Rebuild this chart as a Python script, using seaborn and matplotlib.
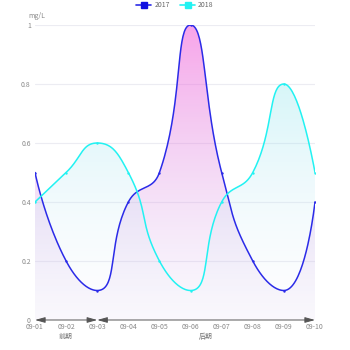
import numpy as np
import matplotlib
matplotlib.use("Agg")
import matplotlib.pyplot as plt
import seaborn as sns
import pandas as pd
from matplotlib.lines import Line2D

dates = ["09-01", "09-02", "09-03", "09-04", "09-05", "09-06", "09-07", "09-08", "09-09", "09-10"]
v2017 = [0.5, 0.2, 0.1, 0.4, 0.5, 1.0, 0.5, 0.2, 0.1, 0.4]
v2018 = [0.4, 0.5, 0.6, 0.5, 0.2, 0.1, 0.4, 0.5, 0.8, 0.5]
yticks = [0, 0.2, 0.4, 0.6, 0.8, 1]
ytick_labels = ["0", "0.2", "0.4", "0.6", "0.8", "1"]
phases = [("前期", 0, 2), ("后期", 2, 9)]
unit = "mg/L"

sns.set_theme(style="white")
plt.rcParams['font.family'] = ['Noto Sans CJK SC', 'DejaVu Sans']

W, H = 350, 350
fig = plt.figure(figsize=(3.5, 3.5), dpi=100)
L, R, T, B = 35, 315, 25, 320
ax = fig.add_axes([L / W, 1 - B / H, (R - L) / W, (B - T) / H])
ax.set_xlim(0, 9)
ax.set_ylim(0, 1)

px_x = (R - L) / 9.0
px_y = (B - T) / 1.0


def echarts_smooth(xs, ys, smooth=0.5, n=40):
    P = [(x * px_x, y * px_y) for x, y in zip(xs, ys)]
    N = len(P)
    segs = []
    cp0 = P[0]
    for i in range(1, N):
        x, y = P[i]
        px_, py_ = P[i - 1]
        if i < N - 1:
            nx, ny = P[i + 1]
            vx, vy = nx - px_, ny - py_
            dx0, dy0 = x - px_, y - py_
            dx1, dy1 = nx - x, ny - y
            lp = np.hypot(dx0, dy0)
            ln = np.hypot(dx1, dy1)
            r = ln / (ln + lp)
            ncx = x + vx * smooth * r
            ncy = y + vy * smooth * r
            ncx = min(ncx, max(nx, x)); ncy = min(ncy, max(ny, y))
            ncx = max(ncx, min(nx, x)); ncy = max(ncy, min(ny, y))
            vx, vy = ncx - x, ncy - y
            c1x = x - vx * lp / ln
            c1y = y - vy * lp / ln
            c1x = min(c1x, max(px_, x)); c1y = min(c1y, max(py_, y))
            c1x = max(c1x, min(px_, x)); c1y = max(c1y, min(py_, y))
            vx, vy = x - c1x, y - c1y
            ncx = x + vx * ln / lp
            ncy = y + vy * ln / lp
            cp1 = (c1x, c1y)
            ncp0 = (ncx, ncy)
        else:
            cp1 = (x, y)
            ncp0 = None
        segs.append((P[i - 1], cp0, cp1, P[i]))
        cp0 = ncp0
    t = np.linspace(0, 1, n)
    out_x, out_y = [], []
    for k, (p0, c0, c1, p1) in enumerate(segs):
        tt = t if k == 0 else t[1:]
        bx = (1 - tt) ** 3 * p0[0] + 3 * (1 - tt) ** 2 * tt * c0[0] + 3 * (1 - tt) * tt ** 2 * c1[0] + tt ** 3 * p1[0]
        by = (1 - tt) ** 3 * p0[1] + 3 * (1 - tt) ** 2 * tt * c0[1] + 3 * (1 - tt) * tt ** 2 * c1[1] + tt ** 3 * p1[1]
        out_x.extend(bx / px_x)
        out_y.extend(by / px_y)
    return np.array(out_x), np.array(out_y)


for yt in yticks[1:]:
    ax.axhline(yt, color="#ececf2", lw=0.8, zorder=0)

x_idx = np.arange(len(dates))
series = [
    ("2017", v2017, "#2b2be8", (0.95, 0.35, 0.85, 0.55), (0.80, 0.72, 0.92, 0.08)),
    ("2018", v2018, "#22f2f2", (0.55, 0.90, 0.93, 0.35), (0.92, 0.92, 0.98, 0.05)),
]

for name, vals, lc, ctop, cbot in series:
    sx, sy = echarts_smooth(x_idx, vals)
    ymax = max(vals)
    grad = np.zeros((256, 1, 4))
    f = np.linspace(1, 0, 256)[:, None]
    for c in range(4):
        grad[:, :, c] = cbot[c] + (ctop[c] - cbot[c]) * f
    poly = ax.fill_between(sx, 0, sy, color="none", lw=0)
    im = ax.imshow(grad, extent=[0, 9, 0, ymax], aspect="auto", origin="upper", zorder=1, interpolation="bilinear")
    im.set_clip_path(poly.get_paths()[0], transform=ax.transData)
    df = pd.DataFrame({"x": sx, "y": sy})
    sns.lineplot(data=df, x="x", y="y", sort=False, color=lc, lw=1.1, ax=ax, zorder=3, estimator=None)
    dp = pd.DataFrame({"x": x_idx, "y": vals})
    sns.scatterplot(data=dp, x="x", y="y", color=lc, s=3, linewidth=0, ax=ax, zorder=4)

ax.set_xlim(0, 9)
ax.set_ylim(0, 1)
ax.set_xlabel("")
ax.set_ylabel("")
for s in ax.spines.values():
    s.set_visible(False)

ax.set_yticks(yticks)
ax.set_yticklabels(ytick_labels)
ax.set_xticks(x_idx)
ax.set_xticklabels(dates)
ax.tick_params(axis="both", labelsize=5, colors="#888888", length=0, pad=2)
ax.tick_params(axis="x", pad=2.5)
ax.tick_params(axis="y", pad=3)

for label, a, b in phases:
    ax.annotate("", xy=(b, 0), xytext=(a, 0), xycoords="data",
                arrowprops=dict(arrowstyle="<|-|>,head_length=0.5,head_width=0.14", color="#555555",
                                lw=0.7, shrinkA=0, shrinkB=0), annotation_clip=False, zorder=5)
    ax.text((a + b) / 2 if label != "前期" else 1, -0.045, label, ha="center", va="top",
            fontsize=5, color="#777777", transform=ax.transData, clip_on=False)

fig.text(28 / W, 1 - 16 / H, unit, fontsize=5, color="#888888", ha="left", va="center")

handles = [Line2D([0], [0], color="#2b2be8", lw=1.2, marker="s", markersize=4, markerfacecolor="#1010e0", markeredgecolor="#1010e0"),
           Line2D([0], [0], color="#22f2f2", lw=1.2, marker="s", markersize=4, markerfacecolor="#22f2f2", markeredgecolor="#22f2f2")]
fig.legend(handles, ["2017", "2018"], loc="center", bbox_to_anchor=(0.5, 1 - 5 / H), ncol=2, frameon=False,
           fontsize=5, labelcolor="#666666", handlelength=2.2, handletextpad=0.4, columnspacing=1.5)

fig.savefig("out.png", dpi=100)
